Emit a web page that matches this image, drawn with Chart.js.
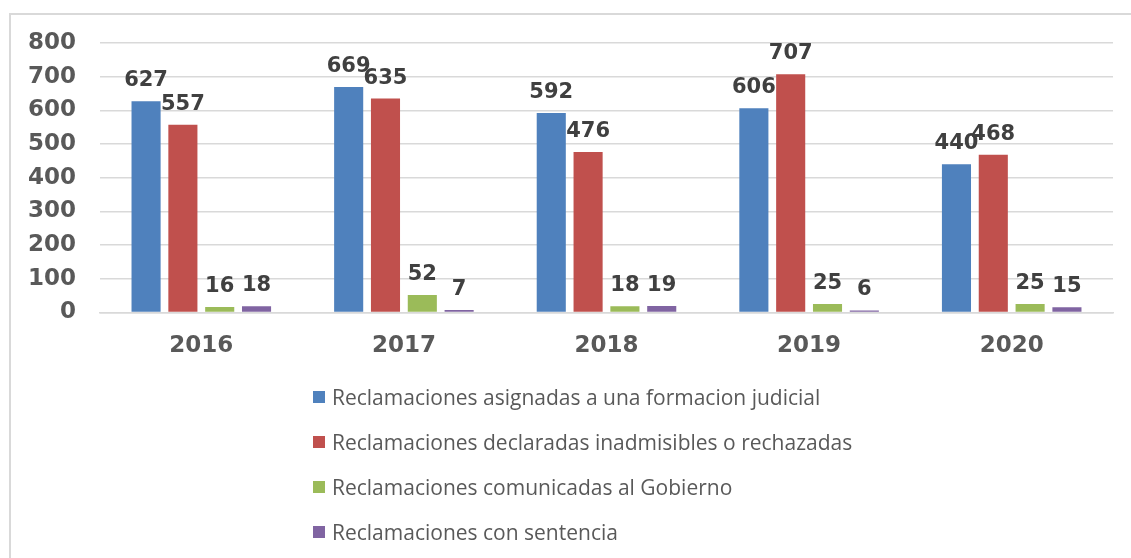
<!DOCTYPE html>
<html>
<head>
<meta charset="utf-8">
<script src="https://cdn.jsdelivr.net/npm/chart.js@4/dist/chart.umd.min.js"></script>
<style>
  html, body { margin: 0; padding: 0; background: #fff; width: 1131px; height: 558px; overflow: hidden; }
  #frame { position: absolute; left: 9px; top: 13px; width: 1200px; height: 600px; border: 2px solid #d9d9d9; box-sizing: border-box; }
  #wrap { position: absolute; left: 0; top: 0; width: 1131px; height: 376px; }
  #legend { position: absolute; left: 313px; top: 374px; font-family: "Open Sans", sans-serif; font-size: 21px; color: #595959; }
  .item { height: 45px; display: flex; align-items: center; }
  .box { width: 12px; height: 12px; margin-right: 7px; }
</style>
</head>
<body>
<div id="frame"></div>
<div id="wrap"><canvas id="chart"></canvas></div>
<div id="legend"></div>
<script>
// Données
var annees = ['2016', '2017', '2018', '2019', '2020'];
var asignadas = [627, 669, 592, 606, 440];
var inadmisibles = [557, 635, 476, 707, 468];
var comunicadas = [16, 52, 18, 25, 25];
var sentencias = [18, 7, 19, 6, 15];
var ticksY = [0, 100, 200, 300, 400, 500, 600, 700, 800];

var series = [
  { label: 'Reclamaciones asignadas a una formacion judicial', data: asignadas, color: '#4f81bd' },
  { label: 'Reclamaciones declaradas inadmisibles o rechazadas', data: inadmisibles, color: '#c0504d' },
  { label: 'Reclamaciones comunicadas al Gobierno', data: comunicadas, color: '#9bbb59' },
  { label: 'Reclamaciones con sentencia', data: sentencias, color: '#8064a2' }
];

// Petit plugin pour écrire les valeurs au-dessus des barres
var valeursPlugin = {
  id: 'valeurs',
  afterDatasetsDraw: function (chart) {
    var ctx = chart.ctx;
    ctx.save();
    ctx.font = 'bold 21px "DejaVu Sans", sans-serif';
    ctx.fillStyle = '#404040';
    ctx.textAlign = 'center';
    ctx.textBaseline = 'bottom';
    chart.data.datasets.forEach(function (ds, i) {
      chart.getDatasetMeta(i).data.forEach(function (bar, j) {
        ctx.fillText(ds.data[j], bar.x, bar.y - 10);
      });
    });
    ctx.restore();
  }
};

var chart = new Chart(document.getElementById('chart'), {
  type: 'bar',
  data: {
    labels: annees,
    datasets: series.map(function (s) {
      return {
        label: s.label,
        data: s.data,
        backgroundColor: s.color,
        categoryPercentage: 0.727,
        barPercentage: 0.79
      };
    })
  },
  options: {
    responsive: true,
    maintainAspectRatio: false,
    animation: false,
    layout: { padding: { left: 10, right: 18, top: 43, bottom: 4 } },
    plugins: {
      legend: { display: false },
      tooltip: { enabled: false }
    },
    scales: {
      y: {
        min: 0,
        max: 800,
        afterFit: function (scale) { scale.width = 90; },
        afterBuildTicks: function (scale) {
          scale.ticks = ticksY.map(function (v) { return { value: v }; });
        },
        border: { display: false },
        grid: { color: '#d9d9d9', lineWidth: 1.5, drawTicks: false },
        ticks: {
          padding: 24,
          color: '#595959',
          font: { family: '"DejaVu Sans", sans-serif', size: 23, weight: 'bold' }
        }
      },
      x: {
        border: { color: '#d9d9d9', width: 1.5 },
        grid: { display: false },
        ticks: {
          padding: 12,
          color: '#595959',
          font: { family: '"DejaVu Sans", sans-serif', size: 23, weight: 'bold' }
        }
      }
    }
  },
  plugins: [valeursPlugin]
});

// Légende verticale en HTML
var legendDiv = document.getElementById('legend');
series.forEach(function (s) {
  var row = document.createElement('div');
  row.className = 'item';
  var box = document.createElement('span');
  box.className = 'box';
  box.style.background = s.color;
  var txt = document.createElement('span');
  txt.textContent = s.label;
  row.appendChild(box);
  row.appendChild(txt);
  legendDiv.appendChild(row);
});
</script>
</body>
</html>
